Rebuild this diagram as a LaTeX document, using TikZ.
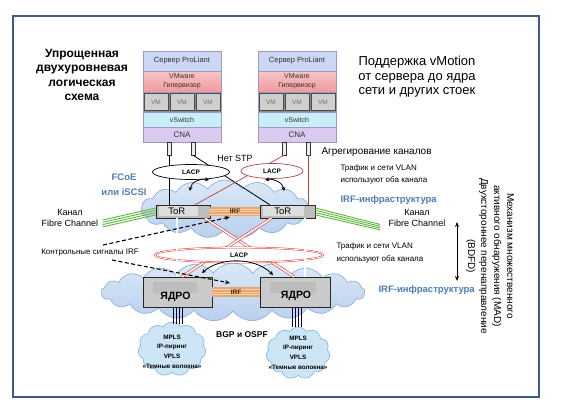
\documentclass[tikz,border=0pt]{standalone}
\usepackage{fontspec}
\setmainfont{Liberation Sans}
\usetikzlibrary{shapes.geometric,shapes.symbols,arrows.meta,calc}
\definecolor{framec}{HTML}{3D5C8A}
\definecolor{stackc}{HTML}{9A9AC4}
\definecolor{hdrc}{HTML}{CDD6F3}
\definecolor{vmwtop}{HTML}{F8C4C6}
\definecolor{vmwbot}{HTML}{F09A9D}
\definecolor{vmbg}{HTML}{8A8A8A}
\definecolor{vmc}{HTML}{CFCFCF}
\definecolor{vswc}{HTML}{C7EEF9}
\definecolor{cnac}{HTML}{DACBEE}
\definecolor{darktext}{HTML}{333333}
\definecolor{bluetext}{HTML}{4F7DB8}
\definecolor{cloudline}{HTML}{8EB1DE}
\definecolor{cloudtop}{HTML}{DCE8F6}
\definecolor{cloudbot}{HTML}{B9D0EE}
\definecolor{scloudfill}{HTML}{CDE6F6}
\definecolor{scloudline}{HTML}{86BCE0}
\definecolor{redc}{HTML}{E23A3A}
\definecolor{darkred}{HTML}{B04848}
\definecolor{irfc}{HTML}{E8A56E}
\definecolor{irfline}{HTML}{F6D2B0}
\definecolor{greenc}{HTML}{5DB53E}
\definecolor{boxgray}{HTML}{BDBDBD}
\definecolor{boxin}{HTML}{DEDEDE}
\definecolor{corein}{HTML}{BDBDBD}
\begin{document}
\begin{tikzpicture}[x=1pt,y=-1pt,
  row/.style={draw=stackc, line width=0.5pt, minimum width=78pt, inner sep=0pt, text=darktext, align=center},
  vmbox/.style={draw=gray!60!black, line width=0.5pt, fill=vmc, minimum width=24pt, minimum height=17pt, inner sep=0pt, text=gray!90!black, font=\fontsize{6.5}{7}\selectfont},
  port/.style={draw=gray!40!black, fill=gray!15, line width=0.5pt, minimum width=3.5pt, minimum height=13pt, inner sep=0pt},
  bigcloud/.style={cloud, cloud ignores aspect, cloud puff arc=110, draw=cloudline, line width=0.7pt, top color=cloudtop, bottom color=cloudbot, inner sep=0pt},
  smallcloud/.style={cloud, cloud ignores aspect, cloud puff arc=115, cloud puffs=11, draw=scloudline, line width=0.7pt, fill=scloudfill, inner sep=0pt},
  lacpell/.style={ellipse, fill=white, inner sep=0pt, font=\bfseries\fontsize{6.5}{7}\selectfont},
  torbox/.style={draw=gray!30!black, line width=0.6pt, fill=boxgray, minimum height=13pt, inner sep=0pt},
  corebox/.style={draw=gray!30!black, line width=0.6pt, fill=boxgray!80, minimum width=69pt, minimum height=30pt, inner sep=0pt},
  irfbar/.style={fill=irfc, minimum height=9pt, inner sep=0pt},
  irftext/.style={font=\bfseries\fontsize{6.5}{7}\selectfont, text=black!70!brown},
  blackln/.style={draw=black, line width=0.8pt},
  redln/.style={draw=darkred, line width=0.7pt},
  reddouble/.style={draw=redc, double=white, double distance=1.6pt, line width=0.6pt},
  greenln/.style={draw=greenc, line width=0.9pt},
  carrow/.style={draw=black, line width=0.8pt, {Stealth[length=4pt,width=4pt]}-{Stealth[length=4pt,width=4pt]}},
  dasharrow/.style={draw=black, line width=1.1pt, dash pattern=on 4pt off 2.5pt, -{Stealth[length=5pt,width=4pt]}},
  smalltxt/.style={font=\fontsize{8}{12.5}\selectfont, align=left, anchor=west},
  irfinf/.style={font=\bfseries\fontsize{9.5}{11}\selectfont, text=bluetext, anchor=west},
  fctxt/.style={font=\fontsize{9}{10.5}\selectfont, align=center},
  cloudtxt/.style={font=\bfseries\fontsize{6.3}{9.7}\selectfont, align=center}
]
\useasboundingbox (0,0) rectangle (561,415);
\fill[white] (0,0) rectangle (561,415);
\draw[framec, line width=2.2pt, fill=white] (13,16) rectangle (539,397);

% clouds
\node[bigcloud, cloud puffs=15, minimum width=168pt, minimum height=58pt] (cloudU) at (225,209) {};
\node[bigcloud, cloud puffs=21, minimum width=264pt, minimum height=58pt] (cloudD) at (233,292) {};
\node[smallcloud, minimum width=68pt, minimum height=54pt] (cloudA) at (172,349) {};
\node[smallcloud, minimum width=64pt, minimum height=52pt] (cloudB) at (298,353) {};

% titles
\node[font=\bfseries\fontsize{12}{14.5}\selectfont, align=center] (title) at (82,75) {Упрощенная\\двухуровневая\\логическая\\схема};
\node[font=\fontsize{13}{14.5}\selectfont, align=center] (vmotion) at (417,77) {Поддержка vMotion\\от сервера до ядра\\ сети и других стоек};

% server stacks
\foreach \n/\x in {L/143,R/258}{
  \node[row, fill=hdrc, minimum height=20pt, font=\fontsize{7.5}{9}\selectfont] (hdr\n) at (\x+39,61) {Сервер ProLiant};
  \node[row, top color=vmwtop, bottom color=vmwbot, minimum height=21pt, font=\fontsize{7}{8.5}\selectfont] (vmw\n) at (\x+39,81.5) {VMware\\Гипервизор};
  \node[row, fill=vmbg, minimum height=20pt] (vmr\n) at (\x+39,102) {};
  \foreach \i in {0,1,2}{\node[vmbox] (vm\n\i) at (\x+13+26*\i,102) {VM};}
  \node[row, fill=vswc, minimum height=15pt, font=\fontsize{7}{8}\selectfont] (vsw\n) at (\x+39,119.5) {vSwitch};
  \node[row, fill=cnac, minimum height=15pt, font=\fontsize{8}{9}\selectfont] (cna\n) at (\x+39,134.5) {CNA};
  \node[port] (p\n1) at (\x+26,148.5) {};
  \node[port] (p\n2) at (\x+50,148.5) {};
}

% ToR boxes
\node[torbox, minimum width=54pt] (torL) at (183,211.5) {};
\node[torbox, minimum width=55pt] (torR) at (287.5,211.5) {};
\fill[boxin] ($(torL.north west)+(3,1.5)$) rectangle ($(torL.south west)+(42,-2)$);
\fill[boxin] ($(torR.north west)+(3,1.5)$) rectangle ($(torR.south west)+(44,-2)$);
\node[font=\fontsize{9.5}{10}\selectfont] (torLt) at ($(torL.west)+(21,-0.5)$) {ToR};
\node[font=\fontsize{9.5}{10}\selectfont] (torRt) at ($(torR.west)+(23,-0.5)$) {ToR};
\path (torL.east) -- (torR.west) node[midway, irfbar, minimum width=50pt] (irfU) {};
\foreach \d in {-2.5,0,2.5}{\draw[irfline, line width=0.4pt] ($(irfU.west)+(0,\d)$) -- ($(irfU.east)+(0,\d)$);}
\node[irftext] (irfUt) at (irfU) {IRF};

% core boxes
\node[corebox] (coreL) at (177.5,292) {};
\node[corebox, minimum width=70pt] (coreR) at (295,292) {};
\fill[corein] ($(coreL.north west)+(10,5)$) rectangle ($(coreL.north west)+(54,16)$);
\fill[corein] ($(coreR.north west)+(10,5)$) rectangle ($(coreR.north west)+(56,16)$);
\node[font=\bfseries\fontsize{10.5}{11}\selectfont] (coreLt) at ($(coreL.center)+(-2,5)$) {ЯДРО};
\node[font=\bfseries\fontsize{10.5}{11}\selectfont] (coreRt) at ($(coreR.center)+(1,4)$) {ЯДРО};
\path (coreL.east) -- (coreR.west) node[midway, irfbar, minimum width=48pt, minimum height=10pt] (irfD) {};
\foreach \d in {-2.5,0,2.5}{\draw[irfline, line width=0.4pt] ($(irfD.west)+(0,\d)$) -- ($(irfD.east)+(0,\d)$);}
\node[irftext] (irfDt) at (irfD) {IRF};

% server to ToR connectors
\coordinate (tR1) at ($(torR.north west)+(10,0)$);
\coordinate (tL1) at ($(torL.north east)+(-15,0)$);
\draw[blackln] (pL1.south) -- (pL1.south |- torL.north);
\draw[blackln] (pL2.south) -- (tR1);
\draw[redln] (pR1.south) -- (tL1);
\draw[redln] (pR2.south) -- (pR2.south |- torR.north);

% upper LACP
\node[lacpell, draw=black, line width=0.7pt, minimum width=77pt, minimum height=15pt] (lacpL) at (191,172) {LACP};
\node[lacpell, draw=darkred, line width=0.7pt, minimum width=62pt, minimum height=15pt] (lacpR) at (272,171) {LACP};
\node[font=\fontsize{9}{10}\selectfont] (nostp) at (235,158) {Нет STP};

% curved arrows under LACP
\coordinate (caL1) at (190,191);
\coordinate (caL2) at (209,180);
\coordinate (caR1) at (265,180);
\coordinate (caR2) at (284,191);
\draw[carrow] (caL1) .. controls (191,182) and (200,178) .. (caL2);
\draw[carrow] (caR1) .. controls (274,178) and (283,183) .. (caR2);

% ToR to core red links
\coordinate (xA1) at ($(torL.south)+(22,0)$);
\coordinate (xA2) at ($(coreR.north)+(-1,0)$);
\coordinate (xB1) at ($(torR.south)+(-16,0)$);
\coordinate (xB2) at ($(coreL.north)+(4.5,0)$);
\draw[reddouble] (xA1) -- (xA2);
\draw[reddouble] (xB1) -- (xB2);
\node[ellipse, draw=redc, double=white, double distance=0.8pt, line width=0.5pt, fill=white, minimum width=168pt, minimum height=15pt, inner sep=0pt, font=\bfseries\fontsize{6.5}{7}\selectfont] (lacpD) at (239,255) {LACP};
\coordinate (vL1) at ($(torL.south)+(-6,0)$);
\coordinate (vR1) at ($(torR.south)+(17.5,0)$);
\draw[reddouble] (vL1) -- (vL1 |- coreL.north);
\draw[reddouble] (vR1) -- (vR1 |- coreR.north);

% curved arrow between cores
\coordinate (cc1) at (202,273);
\coordinate (cc2) at (273,275);
\draw[carrow] (cc1) .. controls (220,257) and (255,257) .. (cc2);

% fibre channel green lines
\foreach \i in {0,1,2,3}{
  \draw[greenln] ($(torL.west)+(0,-3.5+2.3*\i)$) -- ($(torL.west)+(-53,8.5+2.3*\i)$);
  \draw[greenln] ($(torR.east)+(0,-3.5+2.3*\i)$) -- ($(torR.east)+(65,13+1.8*\i)$);
}

% core to small cloud lines
\foreach \d in {-4.5,-1.5,1.5,4.5}{
  \draw[draw=black!80!blue, line width=0.7pt] ($(coreL.south)+(\d,0)$) -- ($(coreL.south)+(\d,17)$);
  \draw[draw=black!80!blue, line width=0.7pt] ($(coreR.south)+(\d+2,0)$) -- ($(coreR.south)+(\d+2,20)$);
}

% labels
\node[fctxt] (fcL) at (70,218) {Канал\\Fibre Channel};
\node[fctxt] (fcR) at (417,218) {Канал\\Fibre Channel};
\node[font=\bfseries\fontsize{9.5}{15}\selectfont, text=bluetext, align=center] (fcoe) at (124,184.5) {FCoE\\или iSCSI};
\node[font=\fontsize{10}{12}\selectfont, anchor=west] (agg) at (318,152) {Агрегирование каналов};
\node[smalltxt] (traf1) at (337,174.5) {Трафик и сети VLAN\\используют оба канала};
\node[irfinf] (irf1) at (337,200) {IRF-инфраструктура};
\node[smalltxt] (traf2) at (333,253) {Трафик и сети VLAN\\используют оба канала};
\node[irfinf] (irf2) at (375,290) {IRF-инфраструктура};
\node[font=\fontsize{8}{10}\selectfont] (ctrl) at (90,253) {Контрольные сигналы IRF};
\node[font=\bfseries\fontsize{8.5}{10}\selectfont] (bgp) at (242,335) {BGP и OSPF};
\node[cloudtxt] (ctA) at (172,351.5) {MPLS\\IP-пиринг\\VPLS\\«Темные волокна»};
\node[cloudtxt] (ctB) at (298,352.5) {MPLS\\IP-пиринг\\VPLS\\«Темные волокна»};
\node[rotate=-90, align=center, font=\fontsize{10}{13}\selectfont] (mad) at (490,256) {Механизм множественного\\активного обнаружения (MAD)\\Двухстороннее перенаправление\\(BDFD)};

% vertical double arrow
\coordinate (va1) at (457,222);
\coordinate (va2) at (457,281);
\draw[draw=black, line width=0.9pt, {Stealth[length=5pt,width=4pt]}-{Stealth[length=5pt,width=4pt]}] (va1) -- (va2);

% dashed control signal arrows
\coordinate (dA1) at (103,245);
\coordinate (dA2) at (230,217);
\coordinate (dB1) at (112,260);
\coordinate (dB2) at (230,283);
\draw[dasharrow] (dA1) -- (dA2);
\draw[dasharrow] (dB1) -- (dB2);
\end{tikzpicture}
\end{document}
